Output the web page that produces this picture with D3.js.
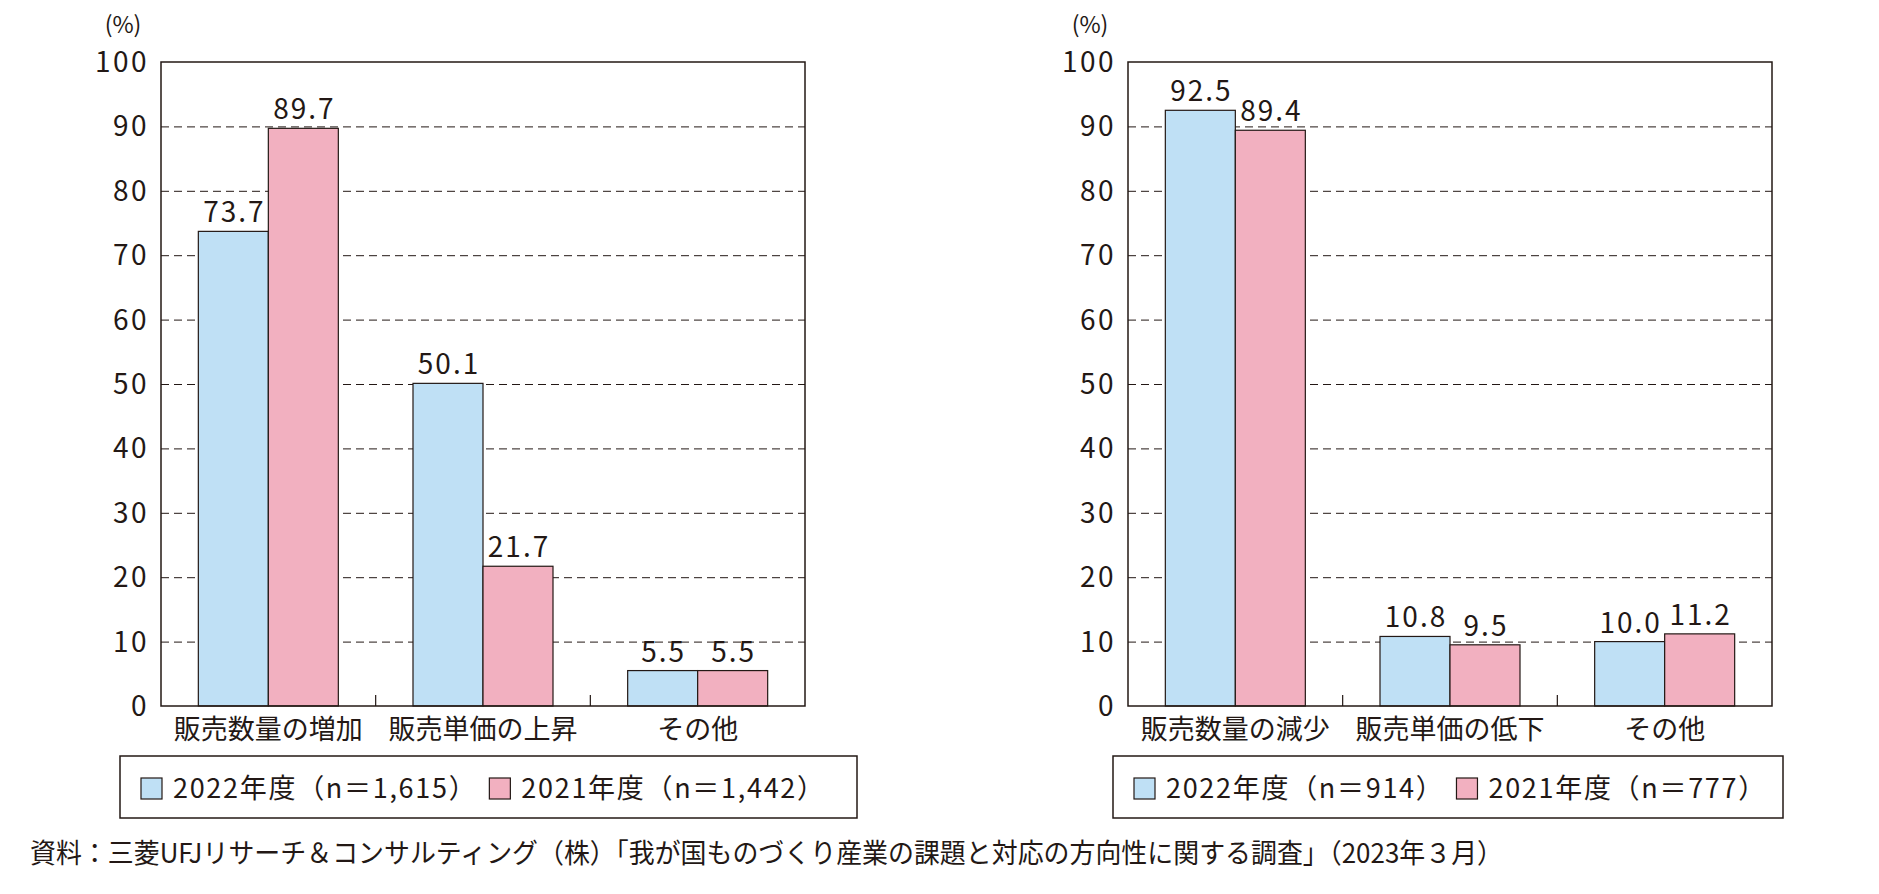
<!DOCTYPE html>
<html lang="ja">
<head>
<meta charset="UTF-8">
<title>販売数量・単価</title>
<style>
body {
    margin: 0;
    background-color: #fff;
    font-family: "Noto Sans CJK JP", "Noto Sans", sans-serif;
}
svg text {
    fill: #231815;
}
</style>
</head>
<body>
<div id="plot"></div>
<script src="https://cdn.jsdelivr.net/npm/d3@7"></script>
<script>

const w = 1879,
      h = 894;

// data
const leftCategories = ["販売数量の増加", "販売単価の上昇", "その他"];
const left2022 = [73.7, 50.1, 5.5];
const left2021 = [89.7, 21.7, 5.5];
const leftLegend = ["2022年度（n＝1,615）", "2021年度（n＝1,442）"];

const rightCategories = ["販売数量の減少", "販売単価の低下", "その他"];
const right2022 = [92.5, 10.8, 10.0];
const right2021 = [89.4, 9.5, 11.2];
const rightLegend = ["2022年度（n＝914）", "2021年度（n＝777）"];

const yTicks = [0, 10, 20, 30, 40, 50, 60, 70, 80, 90, 100];
const seriesColors = ["#bfe0f5", "#f2b0c0"];
const source = "資料：三菱UFJリサーチ＆コンサルティング（株）「我が国ものづくり産業の課題と対応の方向性に関する調査」（2023年３月）";

const svg = d3.select("#plot").append("svg")
    .attr("width", w)
    .attr("height", h);

// y scale shared by both panels
const y = d3.scaleLinear().domain([0, 100]).range([706, 62]);

function drawPanel(x0, x1, cats, s1, s2, legendTexts, legendBox) {
    const g = svg.append("g");

    const x = d3.scaleBand().domain(cats).range([x0, x1]);
    const barW = 70;
    const xs = d3.scaleBand().domain([0, 1]).range([0, barW * 2]);
    const off = (x.bandwidth() - barW * 2) / 2;

    // gridlines
    g.selectAll(".grid")
        .data(yTicks.filter(d => d > 0 && d < 100))
        .join("line")
        .attr("class", "grid")
        .attr("x1", x0).attr("x2", x1)
        .attr("y1", d => y(d) + 0.5).attr("y2", d => y(d) + 0.5)
        .attr("stroke", "#231815")
        .attr("stroke-width", 1)
        .attr("stroke-dasharray", "8,5");

    // bars
    const rows = cats.map((c, i) => ({cat: c, vals: [s1[i], s2[i]]}));
    const groups = g.selectAll(".grp")
        .data(rows)
        .join("g")
        .attr("class", "grp")
        .attr("transform", d => `translate(${x(d.cat) + off},0)`);

    groups.selectAll("rect")
        .data(d => d.vals.map((v, k) => ({v, k})))
        .join("rect")
        .attr("x", d => xs(d.k))
        .attr("y", d => y(d.v))
        .attr("width", xs.bandwidth())
        .attr("height", d => y(0) - y(d.v))
        .attr("fill", d => seriesColors[d.k])
        .attr("stroke", "#231815")
        .attr("stroke-width", 1.2);

    groups.selectAll(".val")
        .data(d => d.vals.map((v, k) => ({v, k})))
        .join("text")
        .attr("class", "val")
        .attr("x", d => xs(d.k) + xs.bandwidth() / 2 + 1)
        .attr("y", d => y(d.v) - 9)
        .attr("text-anchor", "middle")
        .attr("font-size", 28)
        .attr("letter-spacing", 2)
        .text(d => d.v.toFixed(1));

    // frame
    g.append("rect")
        .attr("x", x0).attr("y", y(100))
        .attr("width", x1 - x0).attr("height", y(0) - y(100))
        .attr("fill", "none")
        .attr("stroke", "#231815")
        .attr("stroke-width", 1.5);

    // category separator ticks
    g.selectAll(".sep")
        .data(cats.slice(1))
        .join("line")
        .attr("class", "sep")
        .attr("x1", d => x(d)).attr("x2", d => x(d))
        .attr("y1", y(0)).attr("y2", y(0) - 11)
        .attr("stroke", "#231815")
        .attr("stroke-width", 1.2);

    // y tick labels
    g.selectAll(".ytick")
        .data(yTicks)
        .join("text")
        .attr("class", "ytick")
        .attr("x", x0 - 12)
        .attr("y", d => y(d))
        .attr("dy", "0.36em")
        .attr("text-anchor", "end")
        .attr("font-size", 28)
        .attr("letter-spacing", 2.5)
        .text(d => d);

    g.append("text")
        .attr("x", x0 - 38)
        .attr("y", 33)
        .attr("text-anchor", "middle")
        .attr("font-size", 23)
        .text("(%)");

    // category labels
    g.selectAll(".cat")
        .data(cats)
        .join("text")
        .attr("class", "cat")
        .attr("x", d => x(d) + x.bandwidth() / 2)
        .attr("y", 739)
        .attr("text-anchor", "middle")
        .attr("font-size", 27)
        .text(d => d);

    // legend
    const [lx, ly, lw, lh] = legendBox;
    g.append("rect")
        .attr("x", lx).attr("y", ly)
        .attr("width", lw).attr("height", lh)
        .attr("fill", "#fff")
        .attr("stroke", "#231815")
        .attr("stroke-width", 1.5);

    let cx = lx + 21;
    legendTexts.forEach((t, k) => {
        g.append("rect")
            .attr("x", cx).attr("y", ly + 22)
            .attr("width", 21).attr("height", 21)
            .attr("fill", seriesColors[k])
            .attr("stroke", "#231815")
            .attr("stroke-width", 1.2);
        const tx = g.append("text")
            .attr("x", cx + 32)
            .attr("y", ly + 32)
            .attr("dy", "0.36em")
            .attr("font-size", 27)
            .attr("letter-spacing", 1.7)
            .text(t);
        cx = cx + 32 + tx.node().getComputedTextLength() + 12;
    });
}

drawPanel(161, 805, leftCategories, left2022, left2021, leftLegend, [120, 756, 737, 62]);
drawPanel(1128, 1772, rightCategories, right2022, right2021, rightLegend, [1113, 756, 670, 62]);

// source note
svg.append("text")
    .attr("x", 30)
    .attr("y", 853)
    .attr("dy", "0.36em")
    .attr("font-size", 27)
    .attr("textLength", 1473)
    .attr("lengthAdjust", "spacingAndGlyphs")
    .text(source);

</script>
</body>
</html>
